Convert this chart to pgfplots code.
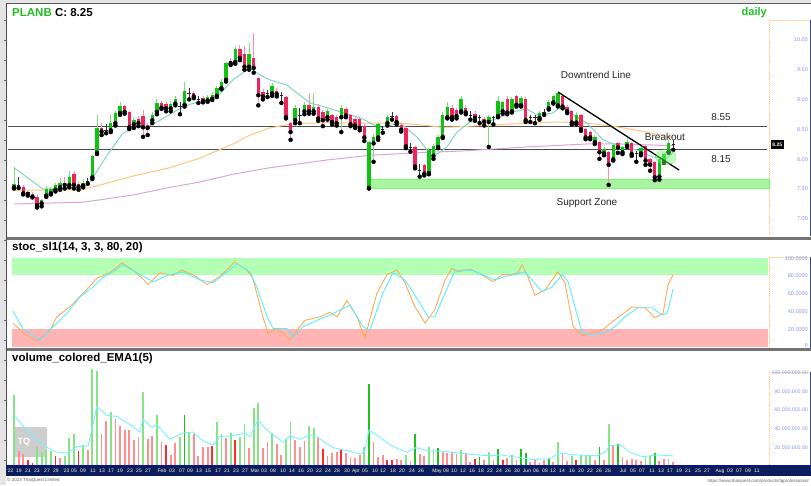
\documentclass[border=0pt]{standalone}
\usepackage{pgfplots}
\pgfplotsset{compat=1.18}
\usepackage{pgfplotstable}
\usepackage{fontspec}
\setmainfont{Liberation Sans}
\definecolor{cg}{HTML}{12C212}
\definecolor{cgw}{HTML}{7FDB7F}
\definecolor{cr}{HTML}{F0245C}
\definecolor{crw}{HTML}{FF8FA8}
\definecolor{ema}{HTML}{86D3C8}
\definecolor{emaf}{HTML}{FFC680}
\definecolor{emas}{HTML}{D8A6DC}
\definecolor{vgl}{HTML}{86E486}
\definecolor{vgd}{HTML}{1FBF1F}
\definecolor{vrl}{HTML}{FF8E8E}
\definecolor{vrd}{HTML}{FF2A2A}
\definecolor{stk}{HTML}{FFAA55}
\definecolor{std}{HTML}{55EEFF}
\definecolor{bandg}{HTML}{B3FFB3}
\definecolor{bandr}{HTML}{FFB3B3}
\definecolor{navy}{HTML}{0B1D5E}
\definecolor{axlab}{HTML}{8A98E8}
\definecolor{tqgreen}{HTML}{22BB22}
\definecolor{zone}{HTML}{A8F5A0}

\pgfplotstableread{
i o h l c
0 7.52 7.86 7.50 7.57
6 7.25 7.33 7.20 7.31
7 7.38 7.55 7.36 7.50
8 7.42 7.53 7.40 7.50
9 7.48 7.60 7.45 7.56
10 7.52 7.67 7.48 7.60
12 7.56 7.80 7.52 7.69
15 7.55 7.66 7.52 7.60
17 7.69 8.07 7.66 8.05
18 8.10 8.74 8.08 8.52
21 8.48 8.75 8.45 8.60
22 8.60 8.80 8.56 8.77
23 8.77 8.96 8.74 8.89
26 8.58 8.70 8.52 8.66
30 8.65 8.78 8.60 8.74
31 8.79 9.00 8.75 8.94
34 8.85 8.98 8.80 8.93
35 8.93 9.05 8.90 9.00
37 8.91 9.29 8.88 9.14
42 8.98 9.08 8.96 9.04
43 9.01 9.12 8.99 9.08
44 9.06 9.22 9.04 9.19
45 9.19 9.35 9.17 9.30
46 9.33 9.63 9.30 9.61
48 9.63 9.90 9.60 9.85
51 9.55 9.95 9.50 9.77
56 9.10 9.28 9.06 9.22
61 8.65 8.90 8.60 8.86
63 8.80 8.95 8.75 8.90
65 8.80 9.10 8.76 8.88
68 8.70 8.84 8.66 8.80
71 8.70 8.90 8.45 8.85
77 7.51 8.30 7.50 8.28
78 8.26 8.42 7.95 8.37
79 8.36 8.62 8.32 8.58
81 8.60 8.74 8.56 8.71
90 7.76 8.18 7.74 8.15
91 8.05 8.25 8.00 8.22
92 8.20 8.40 8.18 8.37
93 8.37 8.78 8.35 8.74
94 8.70 8.95 8.68 8.87
97 8.80 9.05 8.78 9.01
103 8.62 8.74 8.20 8.70
105 8.72 9.06 8.70 8.97
106 8.80 8.98 8.76 8.95
108 8.80 9.04 8.78 9.00
110 8.90 9.05 8.88 9.02
114 8.69 8.80 8.66 8.77
116 8.85 8.99 8.83 8.96
117 8.95 9.08 8.93 9.05
118 8.90 9.13 8.88 9.11
122 8.61 8.78 8.58 8.74
126 8.28 8.40 8.25 8.36
128 8.09 8.20 8.06 8.16
130 7.99 8.27 7.97 8.24
132 8.11 8.22 8.08 8.20
133 8.22 8.35 8.20 8.28
136 8.09 8.20 8.06 8.18
140 7.70 8.02 7.65 8.00
141 7.95 8.10 7.93 8.08
142 8.12 8.32 8.10 8.27
}\cgreen

\pgfplotstableread{
i o h l c
2 7.53 7.56 7.40 7.42
3 7.44 7.46 7.38 7.41
4 7.41 7.44 7.35 7.36
5 7.36 7.40 7.18 7.22
11 7.60 7.70 7.50 7.56
13 7.74 7.80 7.50 7.56
14 7.57 7.62 7.48 7.53
19 8.52 8.60 8.40 8.46
24 8.89 8.91 8.76 8.79
25 8.79 8.80 8.50 8.53
27 8.67 8.72 8.55 8.60
28 8.72 8.82 8.37 8.53
29 8.57 8.60 8.40 8.52
32 8.94 8.98 8.84 8.86
33 8.93 8.96 8.80 8.85
39 9.11 9.14 9.02 9.05
41 9.03 9.06 8.95 8.97
47 9.65 9.70 9.58 9.61
49 9.85 9.92 9.66 9.70
50 9.76 9.90 9.50 9.55
52 9.70 10.12 9.45 9.53
53 9.36 9.38 8.90 9.07
54 9.12 9.18 9.00 9.05
57 9.15 9.20 9.05 9.09
59 9.04 9.06 8.68 8.70
60 8.60 8.62 8.32 8.45
64 8.90 9.10 8.76 8.80
66 8.88 8.92 8.64 8.68
67 8.78 8.82 8.55 8.65
69 8.73 8.76 8.58 8.62
70 8.70 8.74 8.56 8.60
72 8.84 8.88 8.70 8.73
73 8.73 8.76 8.55 8.58
74 8.67 8.70 8.52 8.56
75 8.67 8.70 8.48 8.52
76 8.55 8.58 8.30 8.36
83 8.72 8.74 8.58 8.62
84 8.57 8.60 8.46 8.49
85 8.52 8.55 8.18 8.21
87 8.20 8.22 7.84 7.87
89 7.90 7.92 7.72 7.75
95 8.86 8.90 8.66 8.70
96 8.82 8.86 8.68 8.72
98 8.86 8.90 8.75 8.78
100 8.75 8.80 8.64 8.69
102 8.67 8.70 8.56 8.62
107 9.00 9.05 8.75 8.78
109 9.06 9.08 8.88 8.91
111 9.01 9.04 8.62 8.65
119 9.06 9.08 8.85 8.88
120 8.88 8.90 8.77 8.80
121 8.80 8.82 8.58 8.61
123 8.74 8.76 8.47 8.50
124 8.50 8.52 8.33 8.36
125 8.45 8.47 8.33 8.36
127 8.28 8.30 8.00 8.11
129 8.12 8.14 7.56 7.90
131 8.26 8.28 8.10 8.19
134 8.27 8.29 8.05 8.08
137 8.21 8.23 7.90 7.97
138 8.00 8.02 7.80 7.90
139 7.95 7.97 7.64 7.69
}\cred

\pgfplotstableread{
i o h l c
1 7.55 7.69 7.51 7.55
16 7.62 7.68 7.58 7.62
20 8.48 8.58 8.43 8.48
36 8.88 8.95 8.75 8.88
38 9.10 9.20 9.00 9.10
40 9.00 9.06 8.94 9.00
55 9.10 9.16 9.04 9.10
58 9.07 9.12 8.94 9.07
62 8.73 8.85 8.60 8.73
80 8.49 8.56 8.44 8.49
82 8.72 8.78 8.66 8.72
86 8.20 8.26 8.12 8.20
88 7.80 7.92 7.70 7.80
99 8.74 8.80 8.66 8.74
101 8.69 8.74 8.60 8.69
104 8.69 8.72 8.58 8.69
112 8.69 8.74 8.62 8.69
113 8.69 8.73 8.60 8.69
115 8.79 8.84 8.74 8.79
135 8.09 8.13 7.95 8.09
143 8.25 8.32 8.15 8.25
}\cdoji

\pgfplotstableread{
i v
0 76
5 20
6 14
7 16
8 15
11 10
12 29
13 34
15 22
17 105
18 102
21 58
28 80
31 54
36 31
38 36
44 47
45 34
47 35
49 31
50 45
52 62
53 68
56 35
59 28
60 47
64 42
65 40
76 20
85 11
90 20
91 17
97 16
103 14
108 11
118 25
121 10
123 11
124 11
125 11
129 45
137 9
138 10
142 7
}\vgltab

\pgfplotstableread{
i v
37 54
77 88
87 34
92 19
101 9
105 17
110 17
111 13
116 8
127 20
131 23
139 13
}\vgdtab

\pgfplotstableread{
i v
1 15
2 12
10 8
16 16
19 34
20 48
22 50
23 42
24 38
25 38
26 27
27 30
29 28
30 32
32 25
34 11
35 24
39 34
40 10
41 20
42 20
46 29
51 18
54 18
55 25
57 23
58 11
61 27
62 20
63 26
66 30
68 10
69 13
70 14
72 13
73 9
74 8
75 11
78 25
79 9
80 11
83 7
84 6
86 4
88 12
89 10
93 14
94 13
95 14
96 12
98 13
99 3
102 5
104 5
107 8
109 6
112 3
113 7
114 2
115 5
117 3
119 12
120 4
126 6
128 5
130 22
132 9
133 6
134 7
135 6
136 4
140 4
141 7
143 3
}\vrltab

\pgfplotstableread{
i v
3 5
4 2
9 10
14 15
33 22
43 21
48 27
67 17
71 17
81 5
82 6
100 7
106 5
122 5
}\vrdtab

\pgfplotsset{
  panel/.style={scale only axis, width=762pt, xmin=-1.3, xmax=164.0, hide axis, anchor=south west},
  wick/.style={only marks, mark=none, forget plot,
    error bars/.cd, y dir=plus, y explicit, error mark=none,
    error bar style={line width=0.8pt, draw=#1, solid}},
  body/.style={only marks, mark=none, forget plot,
    error bars/.cd, y dir=plus, y explicit, error mark=none,
    error bar style={line width=3.4pt, draw=#1, solid}},
}

\begin{document}
\begin{tikzpicture}[x=1pt,y=-1pt]
\useasboundingbox (0,0) rectangle (811,485);
% background
\fill[white] (0,0) rectangle (811,485);
\fill[black!10] (0,0) rectangle (6,485);
\fill[black!10] (0,0) rectangle (811,3);
\draw[black!65, line width=1pt] (6,3.5) -- (811,3.5);
\fill[black!55] (6,236.5) rectangle (811,239.5);
\fill[black!55] (6,348) rectangle (811,351);
\draw[black!70, line width=0.8pt] (6.5,3) -- (6.5,465);
\foreach \yy in {20,40,...,460} \draw[black!60, line width=0.5pt] (3.5,\yy) -- (6.5,\yy);
% right strips
\foreach \ya/\yb in {20/236, 257/348, 372/465}{
  \draw[emaf, line width=0.8pt, densely dotted] (769.5,\ya) -- (769.5,\yb);
  \draw[emaf!70, line width=0.8pt] (769.5,\ya) -- (809,\ya);
  \draw[navy!80, line width=1.2pt] (810.4,\ya) -- (810.4,\yb);
}
% TQ watermark
\fill[black!35, opacity=0.55, rounded corners=1pt] (13,427) rectangle (47,457);
\node[text=white, font=\fontsize{9}{10}\selectfont\bfseries, anchor=west] at (14,442) {TQ};

% ---------- price panel ----------
\begin{axis}[panel, at={(8pt,-237pt)}, height=233pt, ymin=6.684, ymax=10.606]
\addplot[fill=zone, draw=zone!70!green, line width=0.6pt, forget plot] coordinates {(77.2,7.50) (163.8,7.50) (163.8,7.65) (77.2,7.65)} -- cycle;
\addplot[black!70, line width=0.9pt, forget plot] coordinates {(-1.3,8.55) (163.4,8.55)};
\addplot[black!70, line width=0.9pt, forget plot] coordinates {(-1.3,8.15) (163.4,8.15)};
\addplot[emas, line width=1pt, forget plot] coordinates {(0,7.24) (15,7.27) (18.7,7.31) (25.8,7.39) (33.2,7.51) (40.3,7.61) (47.5,7.74) (55.5,7.85) (67.9,7.98) (77.2,8.06) (89.6,8.11) (96.7,8.13) (111.3,8.20) (124.3,8.25) (131.5,8.25) (143,8.22)};
\addplot[emaf, line width=1pt, forget plot] coordinates {(0,7.47) (15,7.48) (18.7,7.56) (25.8,7.71) (33.8,7.85) (40.3,8.01) (47.5,8.25) (51.2,8.40) (55.5,8.52) (60.5,8.59) (67.9,8.61) (75,8.60) (83.7,8.60) (89.6,8.56) (93,8.53) (96.7,8.54) (103.9,8.57) (111.3,8.60) (118.4,8.62) (124.3,8.60) (129.9,8.55) (135.8,8.47) (143,8.36)};
\addplot[ema, line width=1pt, forget plot] coordinates {(0,7.85) (6.3,7.49) (15,7.51) (16.5,7.61) (20.2,8.06) (23.6,8.43) (25.8,8.52) (28.9,8.54) (31.7,8.65) (35.4,8.82) (38.2,8.92) (41.9,8.99) (44,9.04) (47.5,9.33) (51.2,9.53) (53.4,9.41) (55.5,9.33) (59.2,9.24) (64.2,8.94) (67.9,8.86) (75.1,8.69) (79.4,8.52) (83.7,8.60) (87.4,8.37) (89.6,8.15) (91.8,8.08) (93.9,8.20) (96.1,8.45) (98.9,8.62) (103.9,8.65) (108.2,8.79) (111.3,8.84) (113.4,8.74) (116.9,8.77) (118.4,8.87) (121.3,8.74) (124.3,8.60) (127.8,8.32) (131.5,8.20) (135.1,8.15) (138.6,8.03) (141.7,8.01) (143,8.11)};
% candles
\addplot[wick=cgw] table[x=i, y=l, y error plus expr=\thisrow{h}-\thisrow{l}] {\cgreen};
\addplot[wick=crw] table[x=i, y=l, y error plus expr=\thisrow{h}-\thisrow{l}] {\cred};
\addplot[wick=black!80] table[x=i, y=l, y error plus expr=\thisrow{h}-\thisrow{l}] {\cdoji};
\addplot[body=cg] table[x=i, y=o, y error plus expr=\thisrow{c}-\thisrow{o}] {\cgreen};
\addplot[body=cr] table[x=i, y=c, y error plus expr=\thisrow{o}-\thisrow{c}] {\cred};
\addplot[only marks, mark=-, mark size=1.7pt, mark options={black!85, line width=0.7pt}, forget plot] table[x=i, y=c] {\cdoji};
% breakout ellipse
\addplot[only marks, mark=*, mark size=8pt, mark options={xscale=1.3, fill=green!55, fill opacity=0.45, draw=green!60!black, draw opacity=0.25}, forget plot] coordinates {(141.4,8.03)};
% downtrend line
\addplot[black, line width=1.3pt, forget plot] coordinates {(118.0,9.125) (144.3,7.81)};
\end{axis}

% ---------- stochastic panel ----------
\begin{axis}[panel, at={(8pt,-348pt)}, height=108pt, ymin=-0.78, ymax=119.5]
\addplot[fill=bandg, draw=none, forget plot] coordinates {(-0.43,80) (163.6,80) (163.6,100) (-0.43,100)} -- cycle;
\addplot[fill=bandr, draw=none, forget plot] coordinates {(-0.43,0) (163.6,0) (163.6,20) (-0.43,20)} -- cycle;
\addplot[stk, line width=0.9pt] coordinates {(-0.2,27) (2.0,16) (5.0,7) (7.8,19) (9.3,34) (12.1,45) (15.0,60) (18.0,77) (20.8,83) (23.4,94) (25.8,86) (28.0,76) (29.1,70) (31.7,83) (34.5,80) (36.4,86) (38.8,81) (41.9,70) (44.7,79) (47.9,95) (50.5,86) (51.8,77) (54.0,34) (55.1,16) (57.0,21) (59.9,9) (63.1,30) (66.4,34) (68.5,39) (70.1,34) (72.2,52) (74.4,34) (76.1,10) (78.7,60) (80.9,81) (83.1,86) (84.8,72) (87.0,45) (89.2,27) (91.3,42) (93.5,75) (95.0,88) (96.3,84) (98.9,87) (100.7,83) (103.9,73) (105.9,81) (108.0,81) (109.3,83) (110.2,92) (111.3,81) (113.0,58) (115.2,64) (118.0,84) (119.5,72) (121.3,23) (123.2,14) (125.4,16) (127.5,19) (129.7,28) (134.1,45) (136.9,44) (139.0,33) (140.8,38) (141.9,70) (143.0,81)};
\addplot[std, line width=0.9pt] coordinates {(-0.2,40) (2.0,20) (5.6,8) (8.5,23) (11.5,38) (14.3,56) (17.1,67) (19.3,78) (21.5,84) (23.6,92) (26.7,83) (30.2,73) (33.8,81) (36.7,84) (40.3,75) (43.2,72) (46.2,84) (48.4,93) (51.2,84) (52.7,67) (54.9,34) (56.2,21) (59.2,21) (60.5,11) (62.7,23) (65.7,30) (68.5,36) (72.9,47) (75.7,23) (77.2,19) (80.0,60) (82.2,83) (84.8,75) (87.6,53) (89.8,34) (91.3,34) (93.5,60) (95.7,86) (99.3,86) (104.3,75) (106.5,79) (108.7,81) (110.8,84) (112.4,75) (114.5,62) (116.7,67) (118.9,81) (120.2,73) (121.7,45) (123.2,17) (125.4,14) (128.2,16) (130.4,23) (132.5,34) (135.4,44) (138.4,44) (140.6,36) (141.7,38) (143.0,65)};
\end{axis}

% ---------- volume panel ----------
\begin{axis}[panel, at={(8pt,-465pt)}, height=114pt, ymin=0, ymax=124.3]
\addplot[ycomb, vgl, line width=1.8pt, mark=none] table[x=i, y=v] {\vgltab};
\addplot[ycomb, vgd, line width=1.8pt, mark=none] table[x=i, y=v] {\vgdtab};
\addplot[ycomb, vrl, line width=1.8pt, mark=none] table[x=i, y=v] {\vrltab};
\addplot[ycomb, vrd, line width=1.8pt, mark=none] table[x=i, y=v] {\vrdtab};
\addplot[std!80!white, line width=0.9pt] coordinates {(0,54) (2.8,38) (5,28) (7.2,19) (9.3,14) (11.5,13) (13.7,20) (16.1,21) (18,64) (20.2,54) (22.3,53) (25.8,42) (27.3,36) (28,50) (29.9,41) (31,44) (33.8,28) (36.7,35) (38.8,36) (41,26) (43.2,22) (44.7,31) (47.5,32) (50.1,35) (51.2,31) (52.9,49) (54.9,38) (56.2,33) (58.4,25) (59.9,32) (62,28) (64.2,33) (65.9,30) (69.2,19) (72.9,15) (75.1,12) (76.1,15) (77,38) (79.4,30) (81.6,22) (83.7,17) (85.2,14) (87.2,19) (90.2,15) (93.1,15) (98.3,12) (103.3,10) (105.4,11) (109.8,8) (112.6,6) (116.3,7) (118.2,13) (122.1,11) (126.5,10) (128.2,14) (129.3,21) (131.5,22) (133.6,14) (136.4,9) (139.5,11) (143,10)};
\end{axis}

% date bar
\fill[navy] (6,465) rectangle (811,476);
\draw[blue!45!navy, line width=0.8pt] (6,465.4) -- (811,465.4);
\foreach \xx/\tt in {10/'22, 19/19, 28/21, 37/23, 47/27, 56/29, 66/'23, 74/05, 83/09, 93/11, 102/13, 111/17, 120/19, 130/23, 139/25, 148/27, 162/Feb, 172/03, 182/07, 190/09, 199/13, 208/15, 218/17, 227/21, 236/23, 245/27, 255/Mar, 264/03, 273/08, 283/10, 292/14, 301/16, 310/20, 319/22, 328/24, 337/28, 347/30, 356/Apr, 365/05, 375/10, 383/12, 393/18, 402/20, 412/24, 421/26, 437/May, 446/08, 454/10, 463/12, 472/16, 481/18, 490/22, 499/24, 508/26, 517/30, 527/Jun, 536/06, 545/08, 553/12, 562/14, 572/16, 581/20, 590/22, 599/26, 608/28, 623/Jul, 633/05, 642/07, 652/11, 661/13, 670/17, 679/19, 688/21, 698/25, 707/27, 720/Aug, 730/03, 739/07, 748/09, 757/11}
  \node[text=yellow!25!white, font=\fontsize{5}{6}\selectfont, inner sep=0pt] at (\xx,470.8) {\tt};
% footer
\node[anchor=west, text=black!60, font=\fontsize{4.5}{5}\selectfont, inner sep=0pt] at (7,480.5) {© 2023 ThaiQuest Limited};
\node[anchor=east, text=black!60, font=\fontsize{4.5}{5}\selectfont, inner sep=0pt] at (809,481) {https://www.thaiquest.com/products/tqprofessional/};

% titles and annotations
\node[anchor=west, inner sep=0pt, font=\fontsize{11.5}{13}\selectfont\bfseries] at (12,13) {\textcolor{tqgreen}{PLANB} C: 8.25};
\node[anchor=east, inner sep=0pt, text=tqgreen!85!green, font=\fontsize{11}{13}\selectfont\bfseries] at (767,13) {daily};
\node[anchor=west, inner sep=0pt, font=\fontsize{11.5}{13}\selectfont\bfseries] at (12,247.5) {stoc\_sl1(14, 3, 3, 80, 20)};
\node[anchor=west, inner sep=0pt, font=\fontsize{11.5}{13}\selectfont\bfseries] at (12,358.5) {volume\_colored\_EMA1(5)};
\node[inner sep=0pt, font=\fontsize{10}{12}\selectfont, text=black!85] at (596,75) {Downtrend Line};
\node[inner sep=0pt, font=\fontsize{10}{12}\selectfont, text=black!85] at (665,137) {Breakout};
\node[inner sep=0pt, font=\fontsize{10}{12}\selectfont, text=black!85] at (587,203.5) {Support Zone};
\node[inner sep=0pt, font=\fontsize{10}{12}\selectfont, text=black!85] at (721,117) {8.55};
\node[inner sep=0pt, font=\fontsize{10}{12}\selectfont, text=black!85] at (721,159) {8.15};
% right axis labels
\foreach \yy/\tt in {40/10.00, 70/9.50, 100/9.00, 130/8.50, 159.5/8.00, 189/7.50, 218.5/7.00}
  \node[anchor=east, inner sep=0pt, text=axlab, font=\fontsize{5.5}{6}\selectfont] at (808,\yy) {\tt};
\fill[black] (770.5,140) rectangle (784,149);
\node[inner sep=0pt, text=white, font=\fontsize{5}{6}\selectfont\bfseries] at (777.2,144.5) {8.25};
\foreach \yy/\tt in {259/100.0000, 275.5/80.0000, 293.5/60.0000, 311.5/40.0000, 329.5/20.0000, 346/0}
  \node[anchor=east, inner sep=0pt, text=axlab, font=\fontsize{5.5}{6}\selectfont] at (808,\yy) {\tt};
\foreach \yy/\tt in {373.5/100{,}000{,}000.00, 392/80{,}000{,}000.00, 410.5/60{,}000{,}000.00, 429.5/40{,}000{,}000.00, 448/20{,}000{,}000.00}
  \node[anchor=east, inner sep=0pt, text=axlab, font=\fontsize{5.2}{6}\selectfont] at (808,\yy) {\tt};
\end{tikzpicture}
\end{document}
